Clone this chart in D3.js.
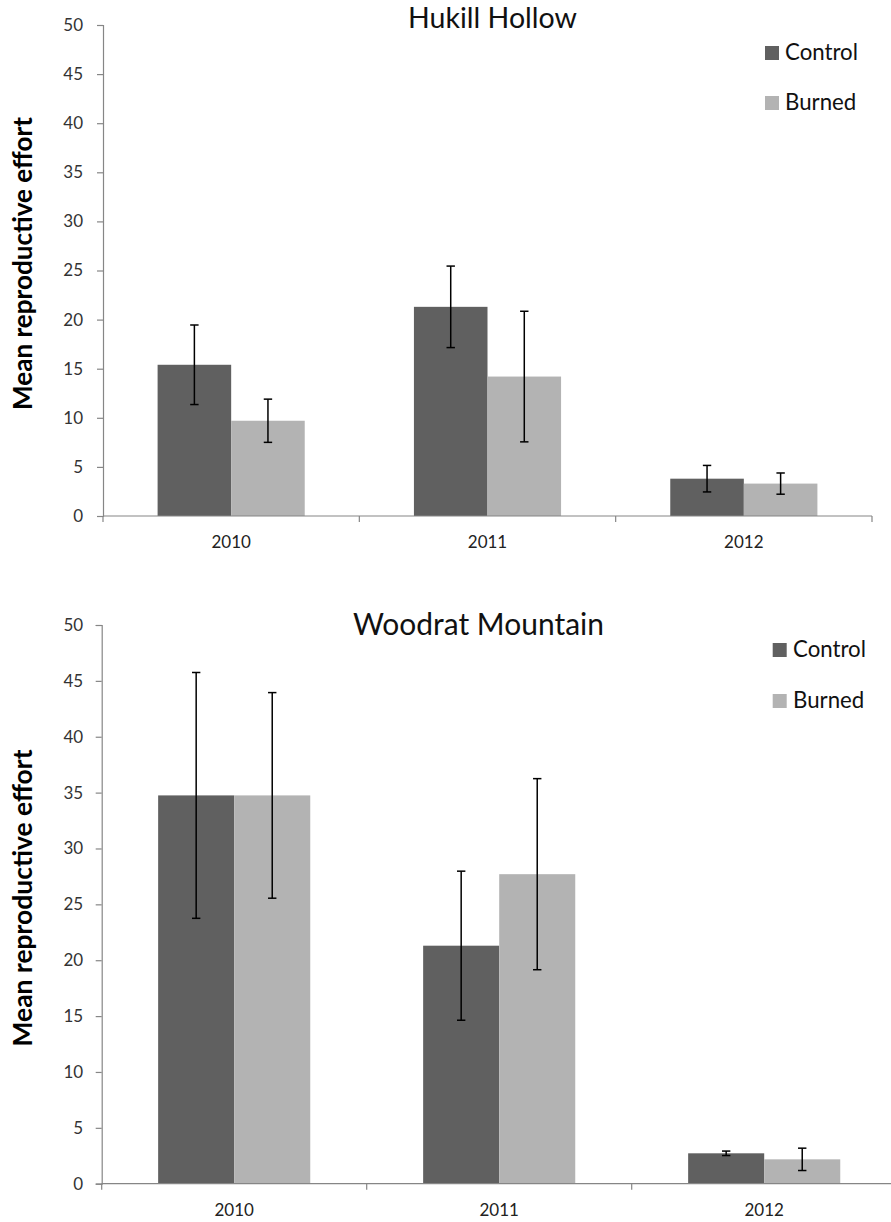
<!DOCTYPE html>
<html>
<head>
<meta charset="utf-8">
<script src="https://cdn.jsdelivr.net/npm/d3@7"></script>
<style>
  html, body { margin: 0; padding: 0; background: #fff; }
  svg { display: block; }
</style>
</head>
<body>
<svg id="chart" width="891" height="1222"></svg>
<script>
// ---------- data ----------
const years = ["2010", "2011", "2012"];
const seriesNames = ["Control", "Burned"];
const yTicks = [0, 5, 10, 15, 20, 25, 30, 35, 40, 45, 50];

const hukillTitle = "Hukill Hollow";
const hukillControl = [15.4, 21.3, 3.8];
const hukillControlErr = [4.05, 4.15, 1.35];
const hukillBurned = [9.7, 14.2, 3.3];
const hukillBurnedErr = [2.2, 6.65, 1.08];

const woodratTitle = "Woodrat Mountain";
const woodratControl = [34.75, 21.3, 2.72];
const woodratControlErr = [11.0, 6.67, 0.2];
const woodratBurned = [34.75, 27.7, 2.18];
const woodratBurnedErr = [9.2, 8.55, 1.0];

const yLabel = "Mean reproductive effort";

// ---------- drawing ----------
const svg = d3.select("#chart");
const FONT = "Lato, 'Open Sans', 'DejaVu Sans', sans-serif";
const colors = { Control: "#606060", Burned: "#b3b3b3" };
const axisColor = "#868686";

function fitText(sel, target) {
  sel.style("font-size", "20px");
  const len = sel.node().getComputedTextLength();
  sel.style("font-size", (20 * target / len) + "px");
}

function drawPanel(cfg) {
  const g = svg.append("g");
  const y = d3.scaleLinear().domain([0, 50]).range([cfg.y0, cfg.y1]);
  const p = 0.426;
  const x = d3.scaleBand().domain(years).range([cfg.x0, cfg.x1])
    .paddingInner(p).paddingOuter(p / 2);
  const xs = d3.scaleBand().domain(seriesNames).range([0, x.bandwidth()]);

  const rows = [];
  years.forEach((yr, i) => {
    rows.push({ year: yr, s: "Control", v: cfg.control[i], e: cfg.controlErr[i] });
    rows.push({ year: yr, s: "Burned", v: cfg.burned[i], e: cfg.burnedErr[i] });
  });

  // bars
  g.selectAll("rect.bar").data(rows).join("rect")
    .attr("class", "bar")
    .attr("x", d => x(d.year) + xs(d.s))
    .attr("width", xs.bandwidth())
    .attr("y", d => y(d.v))
    .attr("height", d => y(0) - y(d.v))
    .attr("fill", d => colors[d.s]);

  // y axis
  const yAxis = d3.axisLeft(y).tickValues(yTicks).tickSize(6).tickPadding(cfg.tickPad);
  const ya = g.append("g").attr("transform", `translate(${cfg.x0},0)`).call(yAxis);
  ya.select(".domain").attr("stroke", axisColor).attr("stroke-width", 1.2);
  ya.selectAll(".tick line").attr("stroke", axisColor).attr("stroke-width", 1.2);
  ya.selectAll(".tick text").attr("fill", "#333").style("font-family", FONT).style("font-size", "17px");

  // x axis (labels at band centers, ticks at band boundaries)
  const xa = g.append("g").attr("transform", `translate(0,${cfg.y0})`)
    .call(d3.axisBottom(x).tickSize(0).tickPadding(0));
  xa.select(".domain").remove();
  xa.selectAll(".tick text").attr("fill", "#222").attr("dy", 0).attr("y", 32)
    .style("font-family", FONT).style("font-size", "17px");
  const step = x.step();
  const bounds = years.map(yr => x(yr) - step * x.paddingOuter());
  bounds.push(bounds[bounds.length - 1] + step);
  g.append("line").attr("x1", cfg.x0).attr("x2", cfg.lineEnd)
    .attr("y1", cfg.y0).attr("y2", cfg.y0)
    .attr("stroke", axisColor).attr("stroke-width", 1.2);
  g.selectAll("line.xt").data(bounds).join("line").attr("class", "xt")
    .attr("x1", d => d).attr("x2", d => d)
    .attr("y1", cfg.y0).attr("y2", cfg.y0 + 6)
    .attr("stroke", axisColor).attr("stroke-width", 1.2);

  // error bars
  const cap = 4.2;
  const eb = g.selectAll("g.err").data(rows).join("g").attr("class", "err")
    .attr("stroke", "#000").attr("stroke-width", 1.5);
  const cx = d => x(d.year) + xs(d.s) + xs.bandwidth() / 2;
  eb.append("line").attr("x1", cx).attr("x2", cx)
    .attr("y1", d => y(d.v + d.e)).attr("y2", d => y(d.v - d.e));
  eb.append("line").attr("x1", d => cx(d) - cap).attr("x2", d => cx(d) + cap)
    .attr("y1", d => y(d.v + d.e)).attr("y2", d => y(d.v + d.e));
  eb.append("line").attr("x1", d => cx(d) - cap).attr("x2", d => cx(d) + cap)
    .attr("y1", d => y(d.v - d.e)).attr("y2", d => y(d.v - d.e));

  // title
  const t = g.append("text").text(cfg.title)
    .attr("x", cfg.titleX).attr("y", cfg.titleY)
    .attr("text-anchor", "middle").attr("fill", "#111")
    .style("font-family", FONT);
  fitText(t, cfg.titleW);

  // y label
  const yl = g.append("text").text(yLabel)
    .attr("transform", `translate(31.5,${cfg.ylabelY}) rotate(-90)`)
    .attr("text-anchor", "middle").attr("fill", "#000")
    .style("font-family", FONT).style("font-weight", "bold");
  fitText(yl, cfg.ylabelW);

  // legend
  const lg = g.selectAll("g.leg").data(seriesNames).join("g").attr("class", "leg")
    .attr("transform", (d, i) => `translate(${cfg.legX},${cfg.legY + i * cfg.legStep})`);
  lg.append("rect").attr("x", 0).attr("y", -14).attr("width", 14).attr("height", 14)
    .attr("fill", d => colors[d]);
  const lt = lg.append("text").text(d => d).attr("x", cfg.legTextDx).attr("y", 0)
    .attr("fill", "#111").style("font-family", FONT);
  const ctrl = lt.filter(d => d === "Control");
  fitText(ctrl, 73);
  lt.style("font-size", ctrl.style("font-size"));
}

drawPanel({
  title: hukillTitle, titleX: 492.5, titleY: 28, titleW: 169,
  control: hukillControl, controlErr: hukillControlErr,
  burned: hukillBurned, burnedErr: hukillBurnedErr,
  x0: 103, x1: 872, lineEnd: 872, y0: 516, y1: 25, tickPad: 14,
  ylabelY: 263.5, ylabelW: 293,
  legX: 765, legY: 60, legStep: 50, legTextDx: 20
});

drawPanel({
  title: woodratTitle, titleX: 478.5, titleY: 635, titleW: 251,
  control: woodratControl, controlErr: woodratControlErr,
  burned: woodratBurned, burnedErr: woodratBurnedErr,
  x0: 101.7, x1: 896.7, lineEnd: 891, y0: 1183.7, y1: 625, tickPad: 12.5,
  ylabelY: 898, ylabelW: 297,
  legX: 772.7, legY: 657, legStep: 51, legTextDx: 20.3
});
</script>
</body>
</html>
